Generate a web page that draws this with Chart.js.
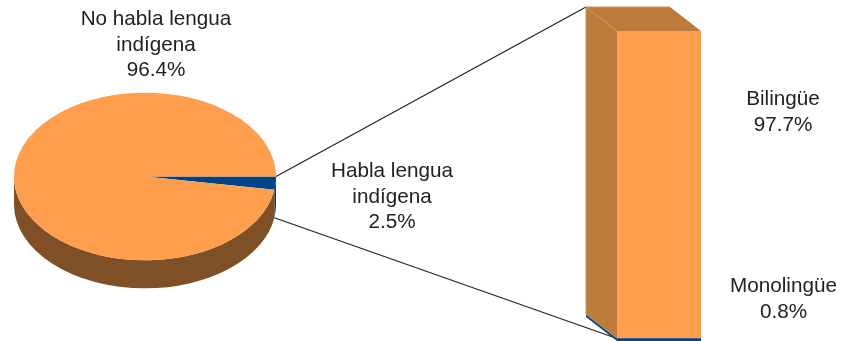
<!DOCTYPE html>
<html><head><meta charset="utf-8">
<script src="https://cdn.jsdelivr.net/npm/chart.js@4"></script>
<style>
html,body{margin:0;padding:0;background:#fff;overflow:hidden}
#w{position:relative;width:847px;height:341px}
canvas{position:absolute;left:0;top:0}
</style></head><body>
<div id="w"><canvas id="pie" width="847" height="341"></canvas><canvas id="bar" width="847" height="341"></canvas></div>
<script>
const pieLabels = [['Habla lengua','indígena'], ['No habla lengua','indígena']];
const pieValues = [2.5, 96.4];
const barLabels = ['Monolingüe', 'Bilingüe'];
const barValues = [0.8, 97.7];

const ORANGE='#FF9F4D', BLUE='#004488', TEXT='#222';
const PIE_SIDE=['#003a74','#7F5026'], BAR_SIDE=['#004488','#BD7A3A'], BAR_EDGE='#D2955C';
const FONT='20.7px "Liberation Sans", Arial, sans-serif', LINE=25.5;
const PIE_CY=176.5, SQUASH=0.64, PIE_DEPTH=28, DX=31, DY=24;
Chart.defaults.animation=false;
Chart.defaults.responsive=false;

function textBlock(ctx,lines,x,y){
  ctx.save();ctx.font=FONT;ctx.fillStyle=TEXT;ctx.textAlign='center';ctx.textBaseline='alphabetic';
  lines.forEach((s,i)=>ctx.fillText(s,x,y+i*LINE));ctx.restore();
}

const barDepth={id:'barDepth',
  beforeDatasetsDraw(c){
    const ctx=c.ctx;
    const els=c.data.datasets.map((d,i)=>c.getDatasetMeta(i).data[0]);
    els.forEach((e,i)=>{
      const l=e.x-e.width/2,t=e.y,b=e.base;
      ctx.fillStyle=BAR_SIDE[i];
      ctx.beginPath();ctx.moveTo(l,t);ctx.lineTo(l-DX,t-DY);ctx.lineTo(l-DX,b-DY);ctx.lineTo(l,b);ctx.closePath();ctx.fill();
    });
    const e=els[1],l=e.x-e.width/2,r=e.x+e.width/2,t=e.y;
    ctx.fillStyle=BAR_SIDE[1];
    ctx.beginPath();ctx.moveTo(l,t);ctx.lineTo(l-DX,t-DY);ctx.lineTo(r-DX,t-DY);ctx.lineTo(r,t);ctx.closePath();ctx.fill();
    ctx.strokeStyle=BAR_EDGE;ctx.lineWidth=1;
    ctx.beginPath();ctx.moveTo(l,t);ctx.lineTo(l-DX,t-DY);ctx.lineTo(r-DX,t-DY);ctx.moveTo(l-DX,t-DY);ctx.lineTo(l-DX,els[0].y-DY);ctx.stroke();
  },
  afterDraw(c){
    const pos=[[783.5,292],[783,105]];
    barLabels.forEach((n,i)=>textBlock(c.ctx,[n,barValues[i]+'%'],pos[i][0],pos[i][1]));
  }
};

const barChart=new Chart(document.getElementById('bar'),{
  type:'bar',
  data:{labels:[''],datasets:[
    {label:barLabels[0],data:[barValues[0]],backgroundColor:BLUE},
    {label:barLabels[1],data:[barValues[1]],backgroundColor:ORANGE}
  ]},
  options:{
    layout:{padding:{left:617,right:146,top:31,bottom:0}},
    datasets:{bar:{barPercentage:1,categoryPercentage:1,borderWidth:0}},
    plugins:{legend:{display:false},tooltip:{enabled:false}},
    scales:{
      x:{stacked:true,display:false},
      y:{stacked:true,display:false,min:0,max:barValues[0]+barValues[1]}
    }
  },
  plugins:[barDepth]
});

const pieDepth={id:'pieDepth',
  beforeDatasetsDraw(c){
    const ctx=c.ctx,arcs=c.getDatasetMeta(0).data;
    const bars=barChart.getDatasetMeta(1).data[0], low=barChart.getDatasetMeta(0).data[0];
    const cy=arcs[0].y;
    const a=arcs[0],ry=a.outerRadius*SQUASH;
    // leader lines from the small slice to the bar
    ctx.save();ctx.strokeStyle='#222';ctx.lineWidth=1.2;ctx.beginPath();
    ctx.moveTo(a.x+a.outerRadius*Math.cos(a.startAngle),PIE_CY+ry*Math.sin(a.startAngle));
    ctx.lineTo(bars.x-bars.width/2-DX,bars.y-DY);
    ctx.moveTo(a.x+a.outerRadius*Math.cos(a.endAngle),PIE_CY+ry*Math.sin(a.endAngle)+PIE_DEPTH);
    ctx.lineTo(low.x-low.width/2,low.y);
    ctx.stroke();ctx.restore();
    // rim of the disc: only the part of each slice facing the viewer
    arcs.forEach((e,i)=>{
      const from=Math.max(e.startAngle,0), to=Math.min(e.endAngle,Math.PI);
      if(to<=from) return;
      ctx.fillStyle=PIE_SIDE[i];
      ctx.beginPath();
      ctx.ellipse(e.x,PIE_CY,e.outerRadius,ry,0,from,to);
      ctx.ellipse(e.x,PIE_CY+PIE_DEPTH,e.outerRadius,ry,0,to,from,true);
      ctx.closePath();ctx.fill();
    });
    ctx.save();
    ctx.translate(0,PIE_CY);ctx.scale(1,SQUASH);ctx.translate(0,-cy);
  },
  afterDatasetsDraw(c){c.ctx.restore();},
  afterDraw(c){
    const pos=[[392,177],[156,25]];
    pieLabels.forEach((n,i)=>textBlock(c.ctx,[...n,pieValues[i]+'%'],pos[i][0],pos[i][1]));
  }
};

new Chart(document.getElementById('pie'),{
  type:'pie',
  data:{labels:pieLabels.map(l=>l.join(' ')),datasets:[{data:pieValues,backgroundColor:[BLUE,ORANGE],borderWidth:0}]},
  options:{
    rotation:90,
    layout:{padding:{left:14,right:571,top:40,bottom:39}},
    plugins:{legend:{display:false},tooltip:{enabled:false}}
  },
  plugins:[pieDepth]
});
</script>
</body></html>
